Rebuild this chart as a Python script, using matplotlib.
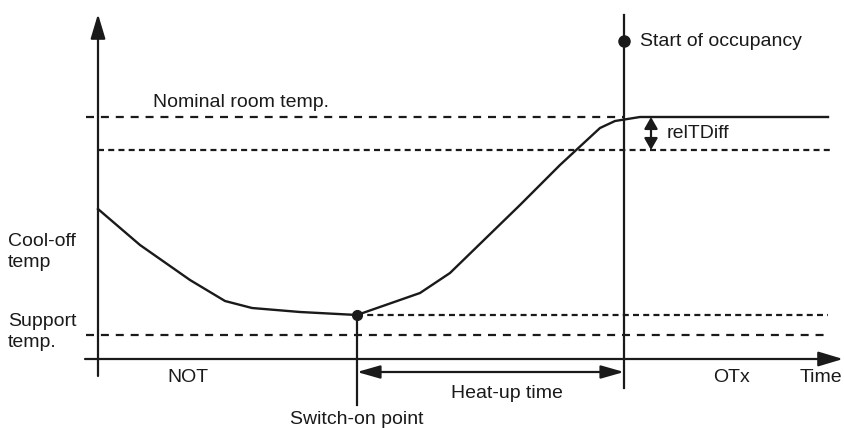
import matplotlib
matplotlib.use('Agg')
import matplotlib.pyplot as plt

plt.rcParams['font.family'] = ['Liberation Sans', 'DejaVu Sans']

# room temperature over time (time / temp in diagram units, origin at the axes cross)
time = [0, 42, 92, 127, 154, 202, 259, 322, 352, 422, 462, 502, 517, 542, 730]
temp = [150, 114, 79, 58, 51, 47, 44, 66, 86, 154, 194, 231, 238, 242, 242]

nominal_temp = 242
nominal_minus_diff = 209
switch_on_temp = 44
support_temp = 24
switch_on_time = 259
occupancy_time = 526

ink = '#1a1a1a'
fs = 14

fig = plt.figure(figsize=(8.44, 4.28), dpi=100)
ax = fig.add_axes([0, 0, 1, 1])
ax.set_xlim(-98, 746)
ax.set_ylim(-69, 359)
ax.axis('off')


def arrow(x0, y0, x1, y1, style='-|>', hl=1.4, hw=0.45):
    ax.annotate('', xy=(x1, y1), xytext=(x0, y0),
                arrowprops=dict(arrowstyle='%s,head_length=%s,head_width=%s' % (style, hl, hw),
                                color=ink, lw=1.6, shrinkA=0, shrinkB=0))


# axes
arrow(0, -17, 0, 345, hl=1.5, hw=0.45)
arrow(-13, 0, 745, 0, hl=1.5, hw=0.45)

# reference levels
wide = dict(color=ink, lw=1.6, linestyle=(0, (3.6, 3.1)))
fine = dict(color=ink, lw=1.6, linestyle=(0, (2.7, 1.9)))
ax.plot([-12, occupancy_time], [nominal_temp] * 2, **wide)
ax.plot([0, 734], [nominal_minus_diff] * 2, **fine)
ax.plot([switch_on_time, 730], [switch_on_temp] * 2, **fine)
ax.plot([-12, 730], [support_temp] * 2, **wide)

# temperature curve
ax.plot(time, temp, color=ink, lw=1.7, solid_joinstyle='round')

# start of occupancy
ax.plot([occupancy_time] * 2, [-29, 344], color=ink, lw=1.6)
ax.plot(occupancy_time, 318, 'o', color=ink, ms=8)
ax.text(542, 318, 'Start of occupancy', fontsize=fs, color=ink, va='center')

# switch-on point
ax.plot([switch_on_time] * 2, [-46, switch_on_temp], color=ink, lw=1.6)
ax.plot(switch_on_time, switch_on_temp, 'o', color=ink, ms=7)

# heat-up time and relTDiff
arrow(switch_on_time, -13, occupancy_time, -13, style='<|-|>', hl=1.4, hw=0.4)
arrow(553, nominal_temp, 553, nominal_minus_diff, style='<|-|>', hl=0.7, hw=0.4)

ax.text(55, 257, 'Nominal room temp.', fontsize=fs, color=ink, va='center')
ax.text(569, 226, 'relTDiff', fontsize=fs, color=ink, va='center')
ax.text(-90, 107, 'Cool-off\ntemp', fontsize=fs, color=ink, va='center', linespacing=1.35)
ax.text(-90, 27, 'Support\ntemp.', fontsize=fs, color=ink, va='center', linespacing=1.35)
ax.text(90, -19, 'NOT', fontsize=fs, color=ink, ha='center', va='center')
ax.text(409, -34, 'Heat-up time', fontsize=fs, color=ink, ha='center', va='center')
ax.text(633, -19, 'OTx', fontsize=fs, color=ink, ha='center', va='center')
ax.text(702, -19, 'Time', fontsize=fs, color=ink, va='center')
ax.text(259, -60, 'Switch-on point', fontsize=fs, color=ink, ha='center', va='center')

fig.savefig('out.png', dpi=100)
